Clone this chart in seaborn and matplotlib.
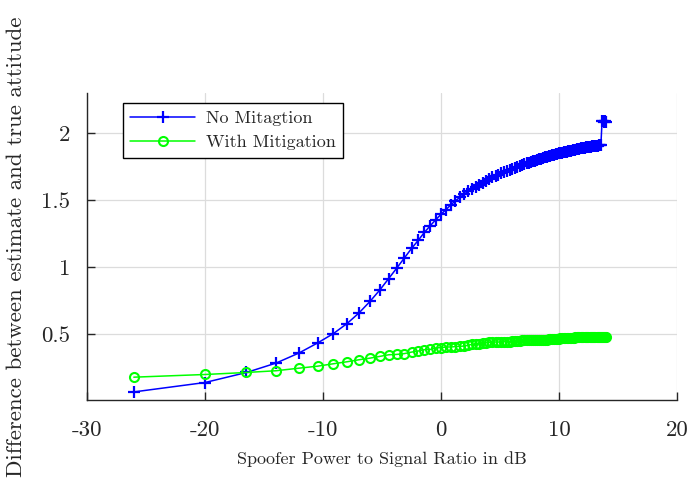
import matplotlib
matplotlib.use("Agg")
import matplotlib.pyplot as plt
from matplotlib.ticker import FuncFormatter
import seaborn as sns
import pandas as pd

# Spoofer power to signal ratio (dB), shared by both curves
spoofer_db = [
    -26.02, -20.00, -16.48, -13.98, -12.04, -10.46, -9.12, -7.96, -6.94, -6.02,
    -5.19, -4.44, -3.74, -3.10, -2.50, -1.94, -1.41, -0.91, -0.44, 0.00,
    0.42, 0.83, 1.21, 1.58, 1.94, 2.28, 2.61, 2.92, 3.23, 3.52,
    3.81, 4.08, 4.35, 4.61, 4.86, 5.11, 5.34, 5.58, 5.80, 6.02,
    6.24, 6.44, 6.65, 6.85, 7.04, 7.24, 7.42, 7.60, 7.78, 7.96,
    8.13, 8.30, 8.47, 8.63, 8.79, 8.94, 9.10, 9.25, 9.40, 9.54,
    9.69, 9.83, 9.97, 10.10, 10.24, 10.37, 10.50, 10.63, 10.76, 10.88,
    11.00, 11.13, 11.25, 11.36, 11.48, 11.60, 11.71, 11.82, 11.93, 12.04,
    12.15, 12.26, 12.36, 12.47, 12.57, 12.67, 12.77, 12.87, 12.97, 13.06,
    13.16, 13.26, 13.35, 13.44, 13.53, 13.63, 13.72, 13.80, 13.89, 13.98,
]

no_mitigation = [
    0.07, 0.14, 0.215, 0.285, 0.36, 0.435, 0.505, 0.58, 0.66, 0.745,
    0.83, 0.915, 0.995, 1.07, 1.14, 1.20, 1.26, 1.31, 1.355, 1.395,
    1.43, 1.465, 1.495, 1.52, 1.545, 1.565, 1.585, 1.60, 1.615, 1.63,
    1.645, 1.658, 1.67, 1.68, 1.69, 1.70, 1.71, 1.718, 1.726, 1.734,
    1.742, 1.749, 1.756, 1.762, 1.768, 1.774, 1.78, 1.785, 1.79, 1.795,
    1.80, 1.805, 1.81, 1.814, 1.818, 1.822, 1.826, 1.83, 1.834, 1.838,
    1.841, 1.844, 1.848, 1.851, 1.854, 1.857, 1.86, 1.862, 1.865, 1.868,
    1.87, 1.872, 1.875, 1.877, 1.879, 1.881, 1.883, 1.885, 1.887, 1.889,
    1.891, 1.893, 1.894, 1.896, 1.897, 1.899, 1.90, 1.902, 1.903, 1.904,
    1.906, 1.907, 1.908, 1.909, 1.91, 2.09, 2.09, 2.085, 2.09, 2.085,
]

with_mitigation = [
    0.18, 0.20, 0.215, 0.228, 0.247, 0.262, 0.28, 0.295, 0.31, 0.322,
    0.335, 0.347, 0.35, 0.356, 0.367, 0.375, 0.385, 0.387, 0.398, 0.40,
    0.405, 0.405, 0.408, 0.41, 0.412, 0.418, 0.425, 0.428, 0.43, 0.432,
    0.436, 0.44, 0.44, 0.442, 0.442, 0.444, 0.444, 0.445, 0.445, 0.446,
    0.446, 0.447, 0.45, 0.455, 0.456, 0.456, 0.457, 0.457, 0.458, 0.458,
    0.458, 0.459, 0.459, 0.46, 0.46, 0.46, 0.461, 0.461, 0.462, 0.462,
    0.462, 0.463, 0.468, 0.472, 0.473, 0.473, 0.474, 0.474, 0.474, 0.475,
    0.475, 0.475, 0.475, 0.476, 0.476, 0.476, 0.476, 0.476, 0.477, 0.477,
    0.477, 0.477, 0.477, 0.477, 0.478, 0.478, 0.478, 0.478, 0.478, 0.478,
    0.478, 0.478, 0.478, 0.479, 0.479, 0.479, 0.479, 0.479, 0.479, 0.479,
]

x_ticks = [-30, -20, -10, 0, 10, 20]
y_ticks = [0.5, 1, 1.5, 2]

sns.set_theme(style="whitegrid")
# computer modern look, like the LaTeX-rendered original
plt.rcParams["font.family"] = ["cmr10", "DejaVu Serif"]
plt.rcParams["mathtext.fontset"] = "cm"
plt.rcParams["axes.formatter.use_mathtext"] = True

df = pd.DataFrame({"db": spoofer_db, "no": no_mitigation, "with": with_mitigation})

fig = plt.figure(figsize=(6.89, 4.86), dpi=100)
ax = fig.add_axes([0.126, 0.177, 0.857, 0.632])

sns.lineplot(data=df, x="db", y="no", ax=ax, color="#0000ff", marker="+",
             markersize=9, markeredgecolor="#0000ff", markeredgewidth=1.6,
             linewidth=1.1, estimator=None, sort=False, label="No Mitagtion")
sns.lineplot(data=df, x="db", y="with", ax=ax, color="#00ff00", marker="o",
             markersize=6.5, markerfacecolor="none", markeredgecolor="#00ff00",
             markeredgewidth=1.5, linewidth=1.1,
             estimator=None, sort=False, label="With Mitigation")

ax.set_xlim(-30, 20)
ax.set_ylim(0.01, 2.3)
ax.set_xticks(x_ticks)
ax.set_yticks(y_ticks)
# plain hyphen minus like the original tick labels
ax.xaxis.set_major_formatter(FuncFormatter(lambda v, p: f"{v:g}"))
ax.yaxis.set_major_formatter(FuncFormatter(lambda v, p: f"{v:g}"))

ax.grid(True, color="#dcdcdc", linewidth=0.9)
for side in ["top", "right"]:
    ax.spines[side].set_visible(False)
for side in ["left", "bottom"]:
    ax.spines[side].set_color("#262626")
    ax.spines[side].set_linewidth(1.0)
ax.tick_params(direction="in", length=6, width=1.0, color="#262626",
               labelsize=16.5, labelcolor="#262626", left=True, bottom=True)
ax.tick_params(axis="x", pad=15)
ax.tick_params(axis="y", pad=12)

ax.set_xlabel("Spoofer Power to Signal Ratio in dB", fontsize=13,
              color="#262626", labelpad=8)
ax.set_ylabel("Difference between estimate and true attitude", fontsize=16.5,
              color="#262626", labelpad=11)

leg = ax.legend(loc="upper left", bbox_to_anchor=(0.061, 0.967),
                borderaxespad=0, fontsize=13, handlelength=3.6,
                handletextpad=0.6, fancybox=False, frameon=True, framealpha=1)
leg.get_frame().set_edgecolor("black")
leg.get_frame().set_linewidth(1.0)

fig.savefig("out.png", dpi=100)
